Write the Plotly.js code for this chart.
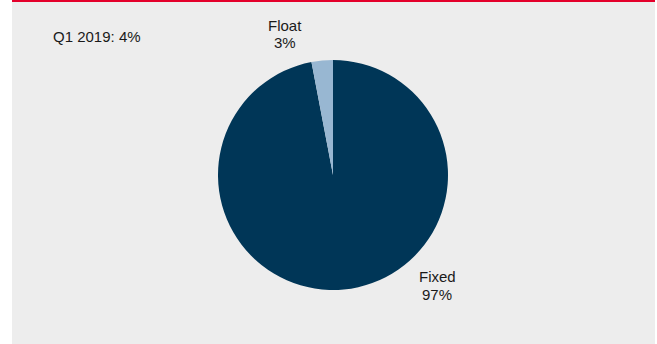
<!DOCTYPE html>
<html>
<head>
<meta charset="utf-8">
<script src="https://cdn.plot.ly/plotly-3.0.1.min.js"></script>
<style>
html,body{margin:0;padding:0;background:#ffffff;}
#chart{width:657px;height:344px;}
</style>
</head>
<body>
<div id="chart"></div>
<script>
// Data
const labels = ["Fixed", "Float"];
const values = [97, 3];
const sliceColors = ["#003657", "#98b7d2"];
const noteText = "Q1 2019: 4%";

// Label placement (pixels in the 657x344 page)
const labelPos = [
  {x: 437, yName: 276, yVal: 294.5},   // Fixed
  {x: 285, yName: 25,  yVal: 42.5}     // Float
];

const W = 657, H = 344;
const ML = 12, MR = 2;
const pw = W - ML - MR;
const px = x => (x - ML) / pw;
const py = y => (H - y) / H;

const font = {family: "'Liberation Sans', Arial, sans-serif", size: 15, color: "#1a1a1a"};

const annotations = [];
labels.forEach((lab, i) => {
  const p = labelPos[i];
  annotations.push({xref: "paper", yref: "paper", x: px(p.x), y: py(p.yName),
    xanchor: "center", yanchor: "middle", text: lab, showarrow: false, font: font});
  annotations.push({xref: "paper", yref: "paper", x: px(p.x), y: py(p.yVal),
    xanchor: "center", yanchor: "middle", text: values[i] + "%", showarrow: false, font: font});
});
annotations.push({xref: "paper", yref: "paper", x: px(51), y: py(36.5),
  xanchor: "left", yanchor: "middle", text: noteText, showarrow: false, font: font});

const cx = 333, cy = 175, r = 115;

const trace = {
  type: "pie",
  labels: labels,
  values: values,
  sort: false,
  direction: "clockwise",
  rotation: 0,
  textinfo: "none",
  hoverinfo: "label+percent",
  marker: {colors: sliceColors, line: {width: 0}},
  showlegend: false,
  domain: {x: [px(cx - r - 20), px(cx + r + 20)], y: [py(cy + r), py(cy - r)]}
};

const layout = {
  width: W, height: H,
  margin: {l: ML, r: MR, t: 0, b: 0, pad: 0},
  paper_bgcolor: "#ffffff",
  plot_bgcolor: "rgba(0,0,0,0)",
  showlegend: false,
  font: font,
  shapes: [
    {type: "rect", xref: "paper", yref: "paper", x0: 0, x1: 1, y0: 0, y1: 1,
     fillcolor: "#ededed", line: {width: 0}, layer: "below"},
    {type: "rect", xref: "paper", yref: "paper", x0: 0, x1: 1, y0: 1 - 2 / H, y1: 1,
     fillcolor: "#e4002b", line: {width: 0}, layer: "above"}
  ],
  annotations: annotations
};

Plotly.newPlot("chart", [trace], layout, {displayModeBar: false, staticPlot: true});
</script>
</body>
</html>
